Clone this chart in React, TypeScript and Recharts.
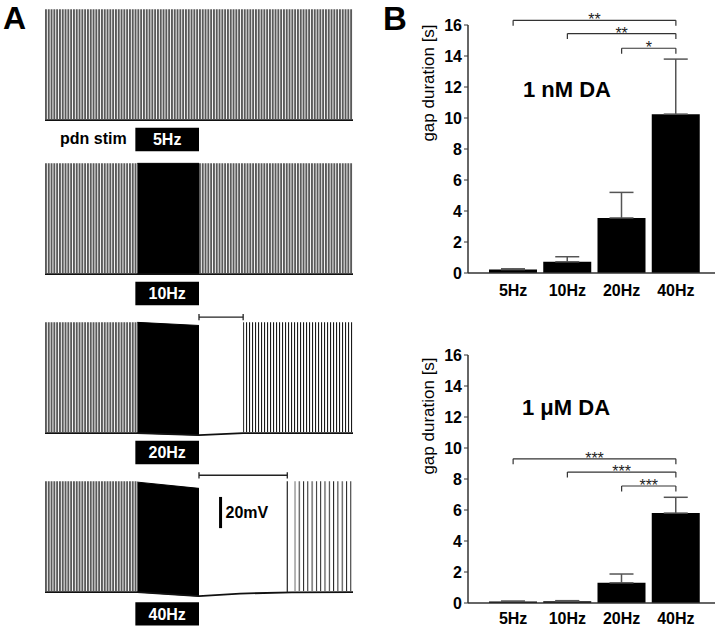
import React from "react";
import {
  BarChart,
  Bar,
  XAxis,
  YAxis,
  ErrorBar,
  ReferenceLine,
  ReferenceArea,
  ComposedChart,
  Line,
  Area,
} from "recharts";

const FONT = "Arial, 'Liberation Sans', Helvetica, sans-serif";

// ---- panel B: gap duration after pdn stimulation ----
const frequencies = ["5Hz", "10Hz", "20Hz", "40Hz"];
const gapNanoMolar = [0.22, 0.72, 3.55, 10.25];
const semNanoMolar = [0.05, 0.33, 1.65, 3.55];
const gapMicroMolar = [0.1, 0.12, 1.3, 5.8];
const semMicroMolar = [0.02, 0.03, 0.57, 1.02];
const gapTicks = [0, 2, 4, 6, 8, 10, 12, 14, 16];

const sigNanoMolar = [
  { from: "5Hz", to: "40Hz", y: 16.3, mark: "**" },
  { from: "10Hz", to: "40Hz", y: 15.45, mark: "**" },
  { from: "20Hz", to: "40Hz", y: 14.5, mark: "*" },
];
const sigMicroMolar = [
  { from: "5Hz", to: "40Hz", y: 9.3, mark: "***" },
  { from: "10Hz", to: "40Hz", y: 8.45, mark: "***" },
  { from: "20Hz", to: "40Hz", y: 7.55, mark: "***" },
];

// ---- panel A: example recordings (time in s, membrane potential in mV) ----
const rest5 = [
  { t: 0, v: -65 },
  { t: 30, v: -65 },
];
const rest10 = [
  { t: 0, v: -65 },
  { t: 30, v: -65 },
];
const rest20 = [
  { t: 0, v: -65 },
  { t: 9, v: -65 },
  { t: 15, v: -66.3 },
  { t: 19.3, v: -65 },
  { t: 30, v: -65 },
];
const rest40 = [
  { t: 0, v: -65 },
  { t: 9, v: -65 },
  { t: 15, v: -67.6 },
  { t: 19, v: -66 },
  { t: 24, v: -65.2 },
  { t: 30, v: -65 },
];

const stim10 = [
  { t: 9, range: [-65, 6] },
  { t: 15, range: [-65, 6] },
];
const stim20 = [
  { t: 9, range: [-65, 6] },
  { t: 15, range: [-66.3, 4] },
];
const stim40 = [
  { t: 9, range: [-65, 5.5] },
  { t: 15, range: [-67.6, 1.5] },
];

const spikes5 = [{ from: 0, to: 30, kind: "dense" }];
const spikes10 = [
  { from: 0, to: 9, kind: "dense" },
  { from: 15, to: 30, kind: "dense" },
];
const spikes20 = [
  { from: 0, to: 9, kind: "dense" },
  { from: 19.3, to: 30, kind: "medium" },
];
const spikes40 = [
  { from: 0, to: 9, kind: "dense" },
  { from: 24.3, to: 30, kind: "sparse" },
];

const gap20 = [15, 19.3];
const gap40 = [15, 23.6];
const loneSpike40 = [23.6];
const stimWindow = [8.8, 15];

const starLabel = (mark: string) => (props: any) => {
  const vb = props.viewBox;
  return (
    <text
      x={vb.x + vb.width / 2}
      y={vb.y + 5}
      textAnchor="middle"
      fontSize={16}
      fontFamily={FONT}
      fill="#222">
      {mark}
    </text>
  );
};

const yLabel = (dy: number) => (props: any) => {
  const { x, y } = props.viewBox;
  const cx = x + 6;
  const cy = y + dy;
  return (
    <text
      x={cx}
      y={cy}
      transform={`rotate(-90 ${cx} ${cy})`}
      textAnchor="middle"
      fontSize={17}
      fontFamily={FONT}
      fill="#000">
      gap duration [s]
    </text>
  );
};

const tickStyle = { fill: "#000", fontSize: 16, fontWeight: 700, fontFamily: FONT };

function GapChart({ top, height, marginTop, axisHeight, tickMargin, values, errors, sig, labelDy }: any) {
  const data = frequencies.map((freq, i) => ({ freq, gap: values[i], err: [0, errors[i]] }));
  return (
    <div style={{ position: "absolute", left: 400, top }}>
      <BarChart
        width={320}
        height={height}
        data={data}
        barSize={48}
        margin={{ top: marginTop, right: 5, bottom: 0, left: 28 }}
        style={{ overflow: "visible" }}>
        <XAxis
          dataKey="freq"
          height={axisHeight}
          padding={{ left: 18, right: 12 }}
          interval={0}
          tickLine={false}
          tickMargin={tickMargin}
          axisLine={{ stroke: "#333", strokeWidth: 1.5 }}
          tick={tickStyle}
        />
        <YAxis
          width={40}
          domain={[0, 16]}
          ticks={gapTicks}
          interval={0}
          tickSize={4}
          tickMargin={2}
          axisLine={{ stroke: "#333", strokeWidth: 1.5 }}
          tickLine={{ stroke: "#333" }}
          tick={tickStyle}
          label={yLabel(labelDy)}
        />
        <Bar dataKey="gap" fill="#000" isAnimationActive={false}>
          <ErrorBar dataKey="err" direction="y" width={12} stroke="#555" strokeWidth={1.5} />
        </Bar>
        {sig.map((s: any) => (
          <React.Fragment key={s.from}>
            <ReferenceLine
              segment={[{ x: s.from, y: s.y }, { x: s.to, y: s.y }]}
              stroke="#333"
              strokeWidth={1.2}
              ifOverflow="visible"
              label={starLabel(s.mark)}
            />
            <ReferenceLine
              segment={[{ x: s.from, y: s.y }, { x: s.from, y: s.y - 0.35 }]}
              stroke="#333"
              strokeWidth={1.2}
              ifOverflow="visible"
            />
            <ReferenceLine
              segment={[{ x: s.to, y: s.y }, { x: s.to, y: s.y - 0.35 }]}
              stroke="#333"
              strokeWidth={1.2}
              ifOverflow="visible"
            />
          </React.Fragment>
        ))}
      </BarChart>
    </div>
  );
}

function Trace({ top, rest, stim, spikes, boxLabel, boxY = [-70, -85], gap, lone, scaleBar }: any) {
  return (
    <div style={{ position: "absolute", left: 45, top }}>
      <ComposedChart
        width={308}
        height={159}
        margin={{ top: 0, right: 0, bottom: 0, left: 0 }}
        style={{ overflow: "visible" }}>
        <XAxis type="number" dataKey="t" domain={[0, 30]} hide allowDataOverflow />
        <YAxis type="number" domain={[-90, 12]} hide allowDataOverflow />
        {spikes.map((s: any, i: number) => (
          <ReferenceArea
            key={i}
            x1={s.from}
            x2={s.to}
            y1={-64.3}
            y2={6}
            fill={`url(#${s.kind})`}
            fillOpacity={1}
            stroke="none"
            ifOverflow="visible"
          />
        ))}
        {stim && (
          <Area
            data={stim}
            dataKey="range"
            type="linear"
            stroke="#000"
            fill="#000"
            fillOpacity={1}
            isAnimationActive={false}
          />
        )}
        <Line
          data={rest}
          dataKey="v"
          type="linear"
          stroke="#111"
          strokeWidth={1.8}
          dot={false}
          isAnimationActive={false}
        />
        {lone &&
          lone.map((t: number) => (
            <ReferenceLine
              key={t}
              segment={[{ x: t, y: -65.3 }, { x: t, y: 6 }]}
              stroke="#222"
              strokeWidth={1.2}
            />
          ))}
        {gap && (
          <>
            <ReferenceLine
              segment={[{ x: gap[0], y: gap[2] }, { x: gap[1], y: gap[2] }]}
              stroke="#222"
              strokeWidth={1.3}
              ifOverflow="visible"
            />
            <ReferenceLine
              segment={[{ x: gap[0], y: gap[2] - 2 }, { x: gap[0], y: gap[2] + 2 }]}
              stroke="#222"
              strokeWidth={1.3}
              ifOverflow="visible"
            />
            <ReferenceLine
              segment={[{ x: gap[1], y: gap[2] - 2 }, { x: gap[1], y: gap[2] + 2 }]}
              stroke="#222"
              strokeWidth={1.3}
              ifOverflow="visible"
            />
          </>
        )}
        {scaleBar && (
          <ReferenceLine
            segment={[{ x: scaleBar, y: -24 }, { x: scaleBar, y: -4 }]}
            stroke="#000"
            strokeWidth={3}
            label={(p: any) => (
              <text
                x={p.viewBox.x + 5}
                y={p.viewBox.y + 21.5}
                fontSize={16}
                fontWeight={700}
                fontFamily={FONT}
                fill="#000">
                20mV
              </text>
            )}
          />
        )}
        <ReferenceArea
          x1={stimWindow[0]}
          x2={stimWindow[1]}
          y1={boxY[0]}
          y2={boxY[1]}
          fill="#000"
          fillOpacity={1}
          stroke="none"
          ifOverflow="visible"
          label={{
            value: boxLabel,
            position: "center",
            fill: "#fff",
            fontSize: 16,
            fontWeight: 700,
            fontFamily: FONT,
          }}
        />
      </ComposedChart>
    </div>
  );
}

export default function App() {
  return (
    <div
      style={{
        position: "absolute",
        left: 0,
        top: 0,
        width: 720,
        height: 628,
        background: "#fff",
        overflow: "hidden",
        fontFamily: FONT,
      }}>
      <svg width={0} height={0} style={{ position: "absolute" }}>
        <defs>
          <pattern id="dense" width={2.8} height={10} patternUnits="userSpaceOnUse">
            <rect x={0} y={0} width={1.9} height={10} fill="#5a5a5a" />
          </pattern>
          <pattern id="medium" width={3} height={10} patternUnits="userSpaceOnUse">
            <rect x={0} y={0} width={1.1} height={10} fill="#1a1a1a" />
          </pattern>
          <pattern id="sparse" width={4.3} height={10} patternUnits="userSpaceOnUse">
            <rect x={0} y={0} width={1} height={10} fill="#222" />
          </pattern>
        </defs>
      </svg>

      <Trace top={-0.4} rest={rest5} spikes={spikes5} boxLabel="5Hz" />
      <Trace top={154.1} rest={rest10} stim={stim10} spikes={spikes10} boxLabel="10Hz" />
      <Trace
        top={312.6}
        rest={rest20}
        stim={stim20}
        spikes={spikes20}
        boxLabel="20Hz"
        gap={[gap20[0], gap20[1], 9.3]}
      />
      <Trace
        top={471.6}
        rest={rest40}
        stim={stim40}
        spikes={spikes40}
        boxLabel="40Hz"
        boxY={[-71.5, -86.5]}
        gap={[gap40[0], gap40[1], 9.9]}
        lone={loneSpike40}
        scaleBar={17.1}
      />

      <GapChart
        top={0}
        height={300}
        marginTop={25}
        axisHeight={27}
        tickMargin={6}
        values={gapNanoMolar}
        errors={semNanoMolar}
        sig={sigNanoMolar}
        labelDy={58}
      />
      <GapChart
        top={320}
        height={308}
        marginTop={35}
        axisHeight={25}
        tickMargin={4}
        values={gapMicroMolar}
        errors={semMicroMolar}
        sig={sigMicroMolar}
        labelDy={61}
      />

      <svg
        width={720}
        height={628}
        style={{ position: "absolute", left: 0, top: 0, pointerEvents: "none" }}>
        <text x={3} y={29} fontSize={32} fontWeight={700} fontFamily={FONT}>
          A
        </text>
        <text x={383} y={30} fontSize={33} fontWeight={700} fontFamily={FONT}>
          B
        </text>
        <text x={60} y={144} fontSize={16} fontWeight={700} fontFamily={FONT}>
          pdn stim
        </text>
        <text x={523} y={97} fontSize={22} fontWeight={700} fontFamily={FONT}>
          1 nM DA
        </text>
        <text x={522} y={415} fontSize={22} fontWeight={700} fontFamily={FONT}>
          1 μM DA
        </text>
      </svg>
    </div>
  );
}
